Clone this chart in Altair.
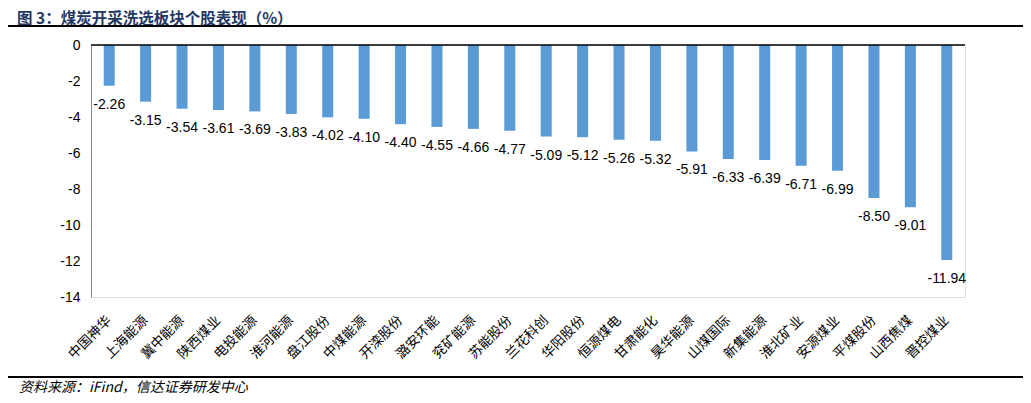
import altair as alt
import pandas as pd

stocks = ["中国神华", "上海能源", "冀中能源", "陕西煤业", "电投能源", "淮河能源", "盘江股份", "中煤能源",
          "开滦股份", "潞安环能", "兖矿能源", "苏能股份", "兰花科创", "华阳股份", "恒源煤电", "甘肃能化",
          "昊华能源", "山煤国际", "新集能源", "淮北矿业", "安源煤业", "平煤股份", "山西焦煤", "晋控煤业"]
values = [-2.26, -3.15, -3.54, -3.61, -3.69, -3.83, -4.02, -4.10, -4.40, -4.55, -4.66, -4.77,
          -5.09, -5.12, -5.26, -5.32, -5.91, -6.33, -6.39, -6.71, -6.99, -8.50, -9.01, -11.94]
y_ticks = [0, -2, -4, -6, -8, -10, -12, -14]

title_text = "图 3：煤炭开采洗选板块个股表现（%）"
source_text = "资料来源：iFind，信达证券研发中心"

df = pd.DataFrame({"stock": stocks, "value": values})
df["label"] = [f"{v:.2f}" for v in values]

W, H = 874, 252
CJK = "Noto Sans CJK SC"
NUM = "Liberation Sans"

x_axis = alt.Axis(labelAngle=-45, labelAlign="right", labelBaseline="middle",
                  labelFont=CJK, labelFontSize=13.5, labelColor="#000000",
                  domain=False, ticks=False, labelPadding=21, labelOverlap=False)
y_axis = alt.Axis(values=y_ticks, grid=False, ticks=False, domainColor="#888888",
                  domainWidth=1, labelFont=NUM, labelFontSize=14, labelColor="#000000",
                  labelPadding=11, labelFlush=False, labelOverlap=False,
                  labelExpr="toString(datum.value)")
y_scale = alt.Scale(domain=[-14, 0], nice=False, zero=False)

base = alt.Chart(df)

bars = base.mark_bar(size=11, color="#5B9BD5").encode(
    x=alt.X("stock:N", sort=stocks, title=None, axis=x_axis),
    y=alt.Y("value:Q", title=None, scale=y_scale, axis=y_axis))

labels = base.mark_text(font=NUM, fontSize=14, color="#000000", baseline="middle",
                        align="center", dy=19).encode(
    x=alt.X("stock:N", sort=stocks, title=None, axis=x_axis),
    y=alt.Y("value:Q", title=None, scale=y_scale, axis=y_axis),
    text=alt.Text("label:N"))

one = alt.Data(values=[{"a": 1}])

zero_line = alt.Chart(one).mark_rule(color="#000000", strokeWidth=1.5).encode(
    x=alt.value(0), x2=alt.value(W), y=alt.value(0))

title = alt.Chart(one).mark_text(font=CJK, fontSize=15.5, fontWeight="bold", color="#1F3864",
                                 align="left", baseline="middle").encode(
    x=alt.value(-74), y=alt.value(-26.5), text=alt.value(title_text))

title_line = alt.Chart(one).mark_rule(color="#000000", strokeWidth=2).encode(
    x=alt.value(-86), x2=alt.value(960), y=alt.value(-19))

foot_line = alt.Chart(one).mark_rule(color="#000000", strokeWidth=2).encode(
    x=alt.value(-86), x2=alt.value(960), y=alt.value(332))

footer = alt.Chart(one).mark_text(font=CJK, fontSize=14, fontStyle="italic", color="#000000",
                                  align="left", baseline="middle").encode(
    x=alt.value(-72), y=alt.value(343), text=alt.value(source_text))

chart = alt.layer(bars, labels, zero_line, title, title_line, foot_line, footer).properties(
    width=W, height=H,
    autosize=alt.AutoSizeParams(type="none"),
    padding={"left": 83, "top": 37, "right": 58, "bottom": 98},
).configure_view(strokeWidth=0, strokeOpacity=0).configure_axisY(
    labelOverlap=False
).configure(background="#ffffff")

chart.save("out.html", embed_options={"renderer": "svg", "actions": False})
